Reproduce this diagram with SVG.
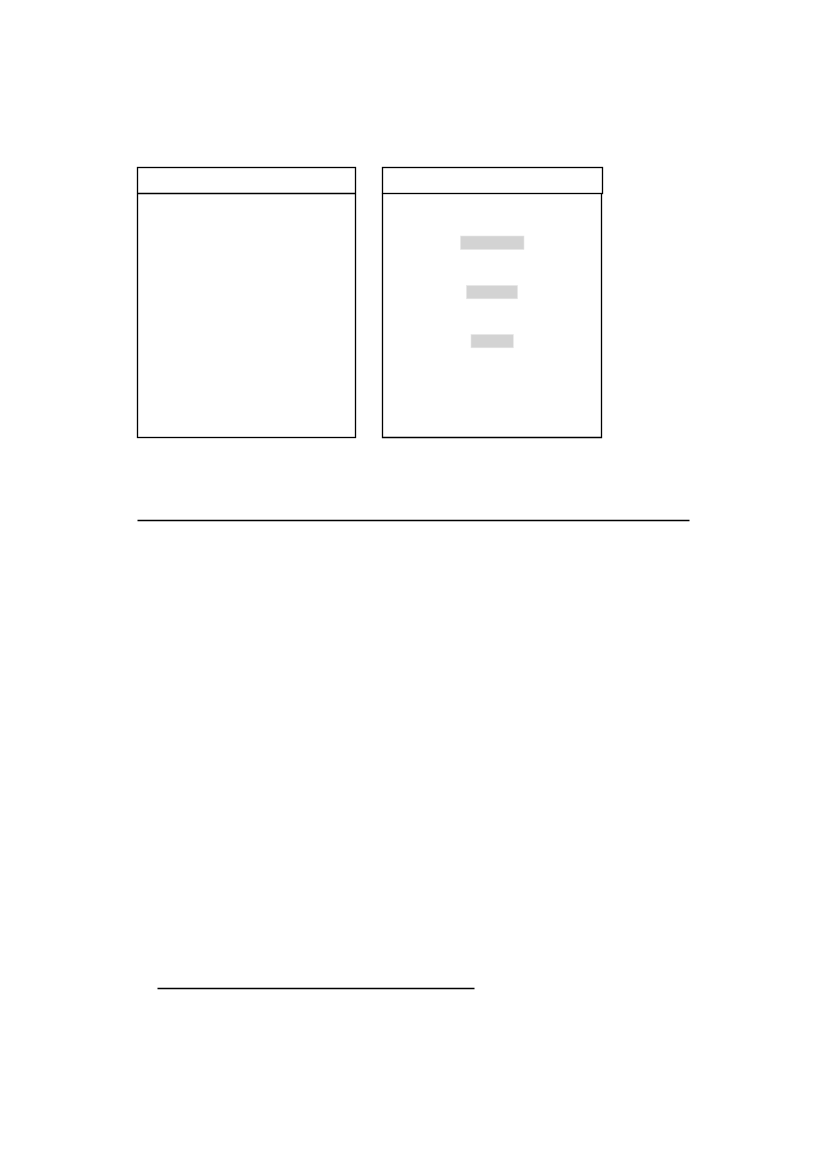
<svg xmlns="http://www.w3.org/2000/svg" width="827" height="1169" viewBox="0 0 827 1169">
<style>
.box{fill:none;stroke:#000;stroke-width:1.3}
.rule{stroke:#000;stroke-width:1.3}
.bar{fill:#d3d3d3;stroke:#e6e6e6;stroke-width:0.6}
</style>
<rect width="827" height="1169" fill="#fff"/>
<g id="node-left">
<rect class="box" x="137.5" y="167.5" width="218" height="270"/>
<line class="rule" x1="137.5" y1="193.5" x2="355.5" y2="193.5"/>
</g>
<g id="node-right">
<rect class="box" x="382.5" y="167.5" width="220" height="26"/>
<polyline class="box" points="382.5,193.5 382.5,437.5 601.5,437.5 601.5,193.5"/>
<rect class="bar" x="460.5" y="236" width="63.5" height="13.5"/>
<rect class="bar" x="466.5" y="285.5" width="51" height="13.3"/>
<rect class="bar" x="471" y="334.5" width="42.3" height="13.3"/>
</g>
<g id="connectors"></g>
<line class="rule" x1="137.5" y1="520.5" x2="689.5" y2="520.5"/>
<line class="rule" x1="157.5" y1="988.5" x2="474.5" y2="988.5"/>
</svg>
